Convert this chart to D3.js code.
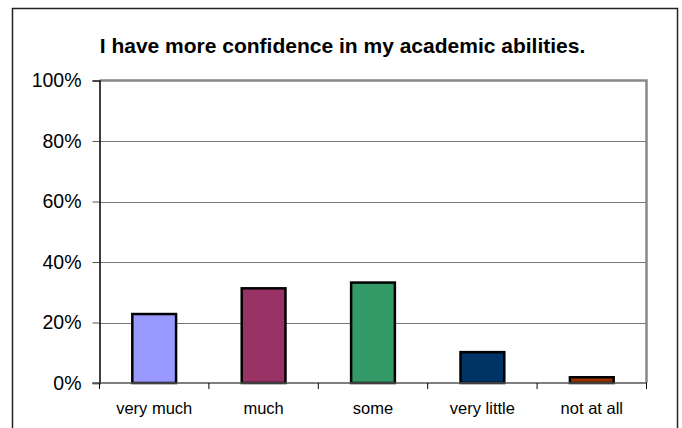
<!DOCTYPE html>
<html><head><meta charset="utf-8">
<script src="https://cdn.jsdelivr.net/npm/d3@7"></script>
<style>body{margin:0;background:#fff}svg{display:block}</style>
</head><body>
<svg id="c" width="682" height="428"></svg>
<script>
const categories = ["very much", "much", "some", "very little", "not at all"];
const values = [0.228, 0.313, 0.332, 0.102, 0.019];
const colors = ["#9999FF", "#993366", "#339966", "#003366", "#993300"];
const yTicks = [0, 0.2, 0.4, 0.6, 0.8, 1.0];
const title = "I have more confidence in my academic abilities.";

(function () {
const svg = d3.select("#c");
const font = "Liberation Sans, Arial, sans-serif";

svg.append("rect").attr("x", 12.5).attr("y", 8.5).attr("width", 665).attr("height", 430)
  .attr("fill", "#fff").attr("stroke", "#222").attr("stroke-width", 1.5);

const pl = 99.5, pr = 646.5, pt = 80.5, pb = 383;
const x = d3.scaleBand().domain(categories).range([pl, pr]).paddingInner(0.6).paddingOuter(0.3);
const y = d3.scaleLinear().domain([0, 1]).range([pb, pt]);

svg.append("g").selectAll("line").data(yTicks.filter(d => d > 0 && d < 1)).join("line")
  .attr("x1", pl).attr("x2", pr).attr("y1", d => Math.round(y(d)) + 0.5).attr("y2", d => Math.round(y(d)) + 0.5)
  .attr("stroke", "#777").attr("stroke-width", 1);

svg.append("path").attr("d", `M${pl},${pt}H${pr}V${pb}`)
  .attr("fill", "none").attr("stroke", "#888").attr("stroke-width", 2.5);

svg.append("g").selectAll("rect").data(values).join("rect")
  .attr("x", (d, i) => x(categories[i]))
  .attr("width", x.bandwidth())
  .attr("y", d => y(d))
  .attr("height", d => pb - y(d))
  .attr("fill", (d, i) => colors[i])
  .attr("stroke", "#000").attr("stroke-width", 2.5);

const yAxis = svg.append("g").attr("transform", `translate(${pl},0)`)
  .call(d3.axisLeft(y).tickValues(yTicks).tickFormat(d3.format(".0%")).tickSize(7).tickPadding(11));
yAxis.select(".domain").attr("stroke", "#000").attr("stroke-width", 1.5);
yAxis.selectAll(".tick line").attr("stroke", "#555");
yAxis.selectAll("text").attr("font-family", font).attr("font-size", 19.5).attr("fill", "#000");

const xPos = d3.scalePoint().domain(d3.range(categories.length + 1)).range([pl, pr]);
const xg = svg.append("g");
xg.append("line").attr("x1", pl - 7).attr("x2", pr).attr("y1", pb).attr("y2", pb)
  .attr("stroke", "#555").attr("stroke-width", 1.5);
xg.selectAll("line.t").data(d3.range(categories.length + 1)).join("line").attr("class", "t")
  .attr("x1", d => xPos(d)).attr("x2", d => xPos(d)).attr("y1", pb).attr("y2", pb + 6)
  .attr("stroke", "#000").attr("stroke-width", 1);
xg.selectAll("text").data(categories).join("text")
  .attr("x", d => x(d) + x.bandwidth() / 2).attr("y", 414)
  .attr("text-anchor", "middle").attr("font-family", font).attr("font-size", 16.5).attr("fill", "#000")
  .text(d => d);

svg.append("text").attr("x", 342.5).attr("y", 53).attr("text-anchor", "middle")
  .attr("font-family", font).attr("font-size", 21).attr("font-weight", "bold").text(title);
})();
</script>
</body></html>
